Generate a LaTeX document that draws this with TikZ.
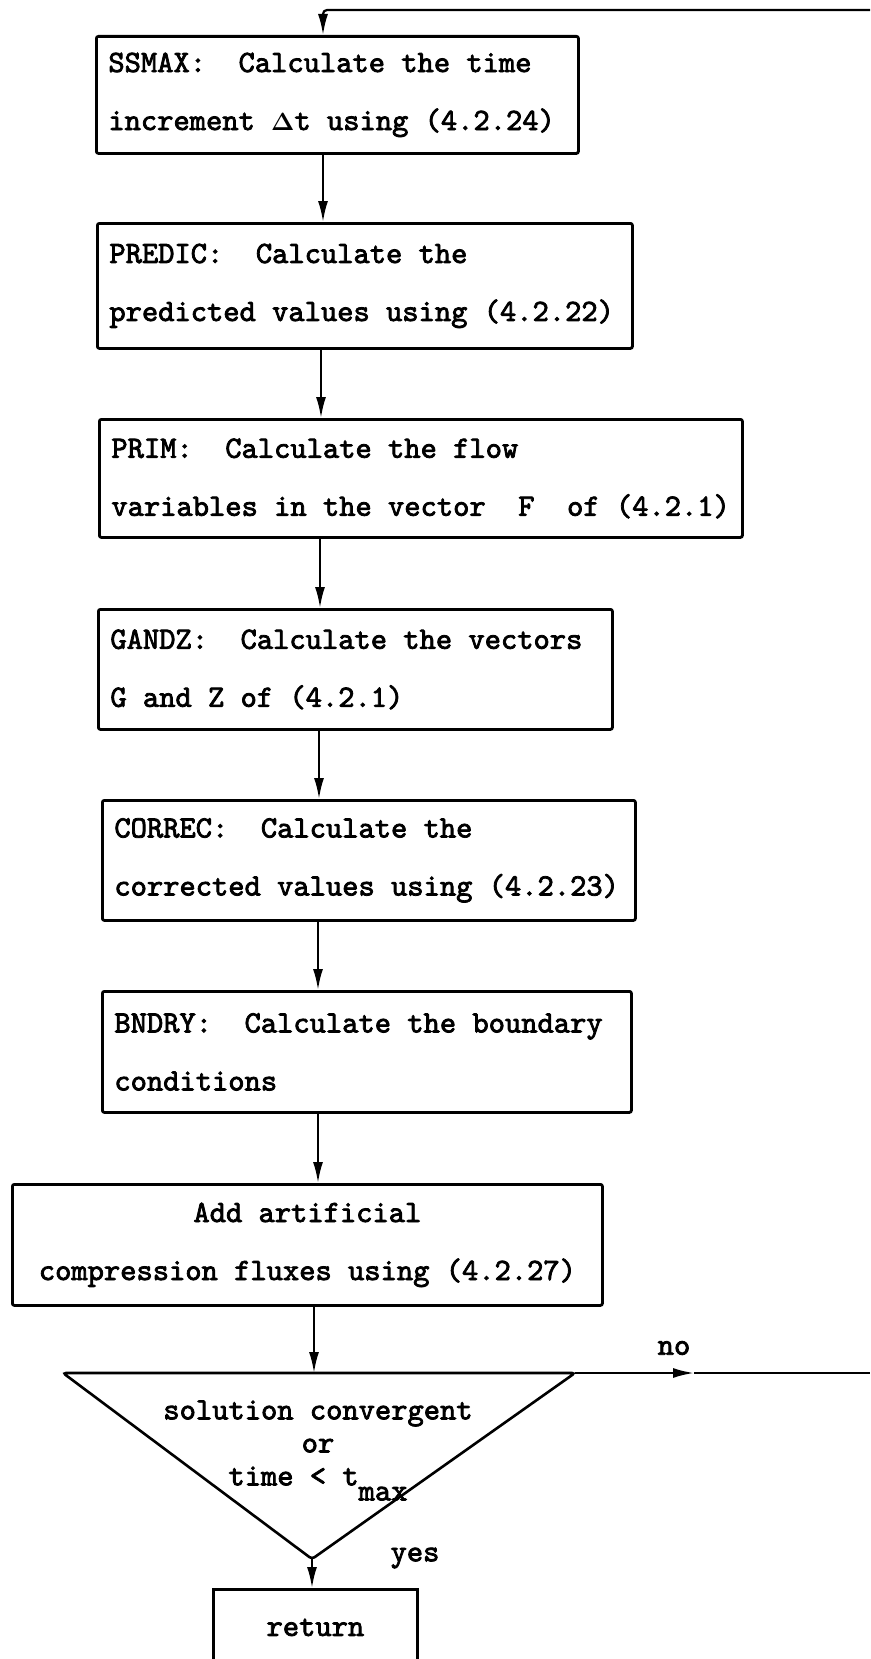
\documentclass[tikz,border=0pt]{standalone}
\usetikzlibrary{arrows.meta}
\font\twf="[lmmono10-regular]:embolden=2.5" at 31pt
\newcommand\twfont[1]{\fontsize{31}{#1}\selectfont\boldmath\twf\frenchspacing}

\begin{document}
\begin{tikzpicture}[x=1pt,y=-1pt,
    every node/.style={font=\twfont{58}},
    stepbox/.style 2 args={draw,line width=2.8pt,rounded corners=2pt,anchor=north west,
      align=flush left,inner xsep=12pt,text width=#1,minimum height=#2},
    arr/.style={line width=2.2pt,-{Latex[length=21pt,width=10pt]}}]
  \useasboundingbox (0,0) rectangle (870,1659);
  \clip (0,0) rectangle (870,1659);
  % the steps of one time level
  \node[stepbox={458pt}{117pt}] (ssmax) at (95,35) {SSMAX:~~Calculate the time\\increment $\Delta$t using (4.2.24)};
  \node[stepbox={511pt}{125pt}] (predic) at (96,222) {PREDIC:~~Calculate the\\predicted values using (4.2.22)};
  \node[stepbox={619pt}{118pt}] (prim) at (98,418) {PRIM:~~Calculate the flow\\variables in the vector~~F~~of (4.2.1)};
  \node[stepbox={490pt}{120pt}] (gandz) at (97,608) {GANDZ:~~Calculate the vectors\\G and Z of (4.2.1)};
  \node[stepbox={509pt}{120pt}] (correc) at (101,799) {CORREC:~~Calculate the\\corrected values using (4.2.23)};
  \node[stepbox={505pt}{121pt}] (bndry) at (101,990) {BNDRY:~~Calculate the boundary\\conditions};
  \node[stepbox={566pt}{121pt},align=flush center] (artif) at (11,1183) {Add artificial\\compression fluxes using (4.2.27)};
  \foreach \a/\b/\x in {ssmax/predic/323,predic/prim/321,prim/gandz/320,gandz/correc/319,correc/bndry/318,bndry/artif/318}
    \draw[arr] (\a.south -| \x,0) -- (\b.north -| \x,0);
  % test
  \coordinate (tl) at (63,1373);
  \coordinate (tr) at (575,1373);
  \coordinate (apex) at (312,1559);
  \coordinate (ttop) at (314,1373);
  \draw[line width=2.6pt,rounded corners=3pt] (apex) -- (tl) -- (tr) -- cycle;
  \node[align=flush center,font=\twfont{33}] (conv) at (318,1443)
    {solution convergent\\or\\time < t\raisebox{-15pt}[0pt][0pt]{max}};
  \draw[arr] (artif.south -| ttop) -- (ttop);
  \node[draw,line width=2.8pt,anchor=north west,minimum width=204pt,minimum height=76pt] (ret) at (212,1588) {return};
  \draw[arr] (apex) -- (ret.north -| apex);
  \node (yes) at (415,1558) {yes};
  % loop back
  \coordinate (notip) at (694,1373);
  \coordinate (noend) at (870,1373);
  \draw[arr] (tr) -- (notip);
  \draw[line width=2.2pt] (notip) -- (noend);
  \node (no) at (674,1348) {no};
  \coordinate (loopin) at (870,10);
  \coordinate (loopx) at (323,10);
  \draw[arr,rounded corners=4pt] (loopin) -- (loopx) -- (ssmax.north -| loopx);
\end{tikzpicture}
\end{document}
